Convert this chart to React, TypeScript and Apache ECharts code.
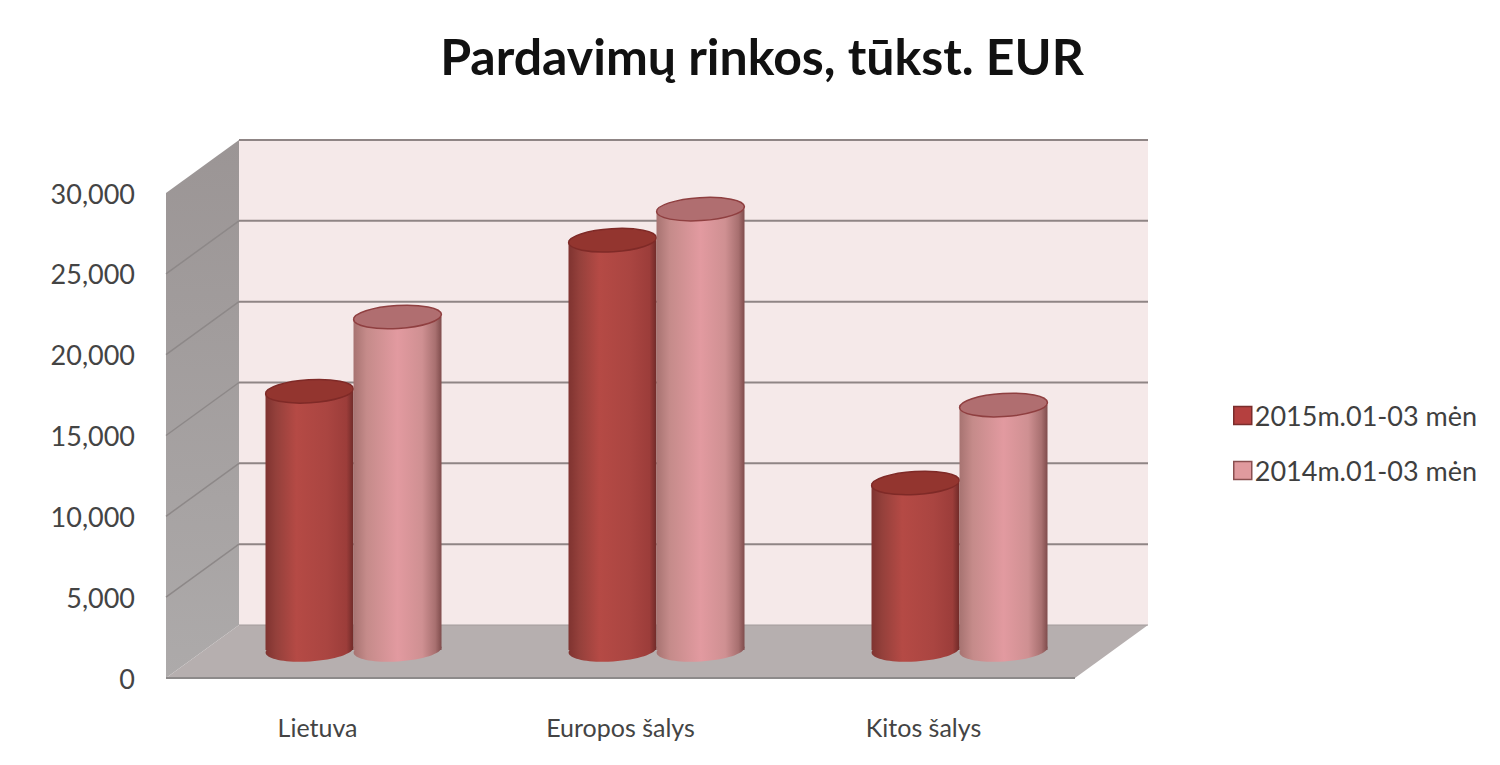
import React, { useEffect, useRef } from "react";
import * as echarts from "echarts";

const titleText = "Pardavimų rinkos, tūkst. EUR";
const categories = ["Lietuva", "Europos šalys", "Kitos šalys"];
const seriesName2015 = "2015m.01-03 mėn";
const seriesName2014 = "2014m.01-03 mėn";
const sales2015 = [16000, 25350, 10330];
const sales2014 = [20600, 27270, 15150];
const yTicks = [0, 5000, 10000, 15000, 20000, 25000, 30000];

const FONT = "Lato";
const DEPTH_X = 73;
const DEPTH_Y = 53;
const BAR_DX = 36;
const BAR_DY = 28;
const RX = 44;
const RY = 11.5;
const TILT = 0.06;

const hGrad = (stops: [number, string][]) =>
  new echarts.graphic.LinearGradient(0, 0, 1, 0, stops.map(([offset, color]) => ({ offset, color })));

const grad2015 = () =>
  hGrad([
    [0, "#7f3330"],
    [0.12, "#94403b"],
    [0.35, "#b54a45"],
    [0.7, "#aa4541"],
    [0.92, "#9c3d3a"],
    [1, "#6f2a28"],
  ]);
const grad2014 = () =>
  hGrad([
    [0, "#a77371"],
    [0.15, "#c58b8a"],
    [0.5, "#e29aa0"],
    [0.78, "#cf9092"],
    [0.93, "#a87070"],
    [1, "#7f4c4c"],
  ]);

function wallItem(params: any, api: any) {
  const tick = api.value(1);
  const g = params.coordSys;
  const left = g.x;
  const right = g.x + g.width;
  const y = api.coord([0, tick])[1];
  const bottom = g.y + g.height;
  const top = g.y;
  const children: any[] = [];
  if (params.dataIndex === 0) {
    children.push(
      {
        type: "polygon",
        shape: {
          points: [
            [left + DEPTH_X, top - DEPTH_Y],
            [right + DEPTH_X, top - DEPTH_Y],
            [right + DEPTH_X, bottom - DEPTH_Y],
            [left + DEPTH_X, bottom - DEPTH_Y],
          ],
        },
        style: { fill: "#f5e9e9" },
      },
      {
        type: "polygon",
        shape: {
          points: [
            [left, top],
            [left + DEPTH_X, top - DEPTH_Y],
            [left + DEPTH_X, bottom - DEPTH_Y],
            [left, bottom],
          ],
        },
        style: {
          fill: new echarts.graphic.LinearGradient(0, 0, 0, 1, [
            { offset: 0, color: "#9b9595" },
            { offset: 1, color: "#adaaaa" },
          ]),
        },
      },
      {
        type: "polygon",
        shape: {
          points: [
            [left, bottom],
            [right, bottom],
            [right + DEPTH_X, bottom - DEPTH_Y],
            [left + DEPTH_X, bottom - DEPTH_Y],
          ],
        },
        style: { fill: "#b6afaf" },
      },
      {
        type: "line",
        shape: { x1: left, y1: bottom, x2: right, y2: bottom },
        style: { stroke: "#8d8a8a", lineWidth: 2 },
      }
    );
  }
  if (tick > 0) {
    children.push({
      type: "line",
      shape: { x1: left + DEPTH_X, y1: y - DEPTH_Y, x2: right + DEPTH_X, y2: y - DEPTH_Y },
      style: { stroke: "#8f8585", lineWidth: 2 },
    });
    if (tick < yTicks[yTicks.length - 1]) {
      children.push({
        type: "line",
        shape: { x1: left, y1: y, x2: left + DEPTH_X, y2: y - DEPTH_Y },
        style: { stroke: "#8d8888", lineWidth: 1.5 },
      });
    }
  } else {
    children.push({
      type: "line",
      shape: { x1: left + DEPTH_X, y1: y - DEPTH_Y, x2: right + DEPTH_X, y2: y - DEPTH_Y },
      style: { stroke: "#a39c9c", lineWidth: 1 },
    });
  }
  return { type: "group", children };
}

function cylinderItem(side: number, gradient: () => any, cap: string, rim: string) {
  return (_params: any, api: any) => {
    const catIndex = api.value(0);
    const top = api.coord([catIndex, api.value(1)]);
    const base = api.coord([catIndex, 0]);
    const cx = base[0] + BAR_DX + side * RX;
    const yTop = top[1] - BAR_DY;
    const yBase = base[1] - BAR_DY;
    return {
      type: "group",
      children: [
        {
          type: "ellipse",
          x: cx,
          y: yBase,
          rotation: TILT,
          shape: { cx: 0, cy: 0, rx: RX, ry: RY },
          style: { fill: gradient() },
        },
        {
          type: "rect",
          shape: { x: cx - RX, y: yTop, width: RX * 2, height: yBase - yTop },
          style: { fill: gradient() },
        },
        {
          type: "ellipse",
          x: cx,
          y: yTop,
          rotation: TILT,
          shape: { cx: 0, cy: 0, rx: RX, ry: RY },
          style: { fill: cap, stroke: rim, lineWidth: 1.5 },
        },
      ],
    };
  };
}

export default function App() {
  const ref = useRef<HTMLDivElement>(null);
  useEffect(() => {
    const chart = echarts.init(ref.current!, undefined, { renderer: "svg" });
    chart.setOption({
      animation: false,
      backgroundColor: "#ffffff",
      title: {
        text: titleText,
        left: 757,
        top: 26,
        textAlign: "center",
        textStyle: { fontFamily: FONT, fontWeight: "bold", fontSize: 50, color: "#111111" },
      },
      legend: {
        orient: "vertical",
        left: 1228,
        top: 397,
        itemWidth: 18,
        itemHeight: 18,
        itemGap: 28,
        selectedMode: false,
        textStyle: { fontFamily: FONT, fontSize: 27, color: "#3f3f3f", padding: [0, 0, 0, -2] },
        data: [
          { name: seriesName2015, icon: "rect", itemStyle: { color: "#b5403f", borderColor: "#7a2d2c", borderWidth: 1.5 } },
          { name: seriesName2014, icon: "rect", itemStyle: { color: "#e09a9e", borderColor: "#8a4f50", borderWidth: 1.5 } },
        ],
      },
      grid: { left: 166, right: 425, top: 193, bottom: 87 },
      xAxis: {
        type: "category",
        data: categories,
        axisLine: { show: false },
        axisTick: { show: false },
        axisLabel: { margin: 36, fontFamily: FONT, fontSize: 25, color: "#444444" },
      },
      yAxis: {
        type: "value",
        min: 0,
        max: 30000,
        interval: 5000,
        axisLine: { show: false },
        axisTick: { show: false },
        splitLine: { show: false },
        axisLabel: { margin: 31, fontFamily: FONT, fontSize: 27, color: "#444444" },
      },
      series: [
        {
          type: "custom",
          name: "walls",
          z: 1,
          silent: true,
          renderItem: wallItem,
          encode: { x: 0, y: 1 },
          data: yTicks.map((t) => [0, t]),
        },
        {
          type: "custom",
          name: seriesName2015,
          z: 2,
          silent: true,
          itemStyle: { color: "#b5403f" },
          renderItem: cylinderItem(-1, grad2015, "#93352f", "#7f2a27"),
          encode: { x: 0, y: 1 },
          data: sales2015.map((v, i) => [i, v]),
        },
        {
          type: "custom",
          name: seriesName2014,
          z: 3,
          silent: true,
          itemStyle: { color: "#e09a9e" },
          renderItem: cylinderItem(1, grad2014, "#b06e70", "#8f3f40"),
          encode: { x: 0, y: 1 },
          data: sales2014.map((v, i) => [i, v]),
        },
      ],
    });
    return () => chart.dispose();
  }, []);
  return <div ref={ref} style={{ position: "absolute", left: 0, top: 0, width: 1500, height: 765 }} />;
}
